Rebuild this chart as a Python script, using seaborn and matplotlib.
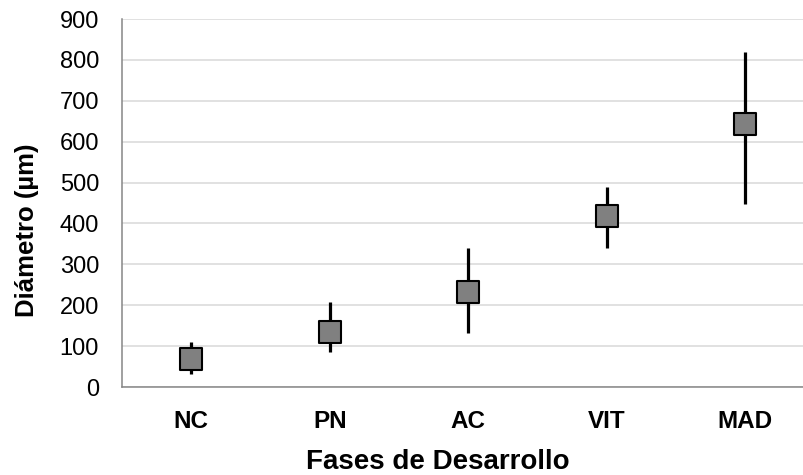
import numpy as np
import pandas as pd
import matplotlib
matplotlib.use("Agg")
import matplotlib.pyplot as plt
import seaborn as sns


# ==========================================================
# Data
# ==========================================================

fases = ["NC", "PN", "AC", "VIT", "MAD"]
diametro_medio = [68, 134, 233, 418, 644]
diametro_min = [33, 86, 132, 341, 447]
diametro_max = [110, 209, 341, 488, 819]

y_ticks = [0, 100, 200, 300, 400, 500, 600, 700, 800, 900]


df = pd.DataFrame({
    "Fase": fases,
    "Diametro": diametro_medio,
    "Min": diametro_min,
    "Max": diametro_max,
})


# ==========================================================
# Style
# ==========================================================

sns.set_theme(style="white")
plt.rcParams["font.family"] = ["Liberation Sans", "DejaVu Sans"]
plt.rcParams["text.color"] = "black"
plt.rcParams["axes.labelcolor"] = "black"

fig = plt.figure(figsize=(8.04, 4.75), dpi=100)
ax = fig.add_axes([122 / 804, 88 / 475, 692.5 / 804, 368 / 475])

axis_grey = "#868686"


# --------------------------
# Error range lines
# --------------------------

ax.vlines(
    np.arange(len(fases)),
    df["Min"],
    df["Max"],
    color="black",
    linewidth=2.3,
    zorder=2
)


# --------------------------
# Square markers
# --------------------------

sns.scatterplot(
    data=df.assign(pos=np.arange(len(fases))),
    x="pos",
    y="Diametro",
    marker="s",
    s=250,
    color="#808080",
    edgecolor="black",
    linewidth=1.5,
    zorder=3,
    ax=ax
)


# --------------------------
# Axes
# --------------------------

ax.set_xlim(-0.5, len(fases) - 0.5)
ax.set_ylim(0, 900)

ax.set_yticks(y_ticks)
ax.set_xticks(np.arange(len(fases)))
ax.set_xticklabels(fases, fontsize=17.5, fontweight="bold")
ax.set_xticks(np.arange(len(fases) + 1) - 0.5, minor=True)

ax.tick_params(axis="x", which="major", length=0, pad=16.5,
               labelcolor="black")
ax.tick_params(axis="x", which="minor", length=6.5, width=1.1,
               color=axis_grey, direction="out")
ax.tick_params(axis="y", which="major", length=6.5, width=1.1,
               color=axis_grey, direction="out", labelsize=17, pad=10,
               labelcolor="black")

ax.yaxis.grid(True, color="#d9d9d9", linewidth=1.1)
ax.set_axisbelow(True)

for side in ["top", "right"]:
    ax.spines[side].set_visible(False)
for side in ["left", "bottom"]:
    ax.spines[side].set_color(axis_grey)
    ax.spines[side].set_linewidth(1.1)

ax.set_xlabel("Fases de Desarrollo", fontsize=20, fontweight="bold")
ax.set_ylabel("Diámetro (µm)", fontsize=18.5, fontweight="bold")
ax.xaxis.set_label_coords(0.4563, -0.168)
ax.yaxis.set_label_coords(-0.12, 0.4266)


plt.savefig("out.png", dpi=100)
plt.close()
